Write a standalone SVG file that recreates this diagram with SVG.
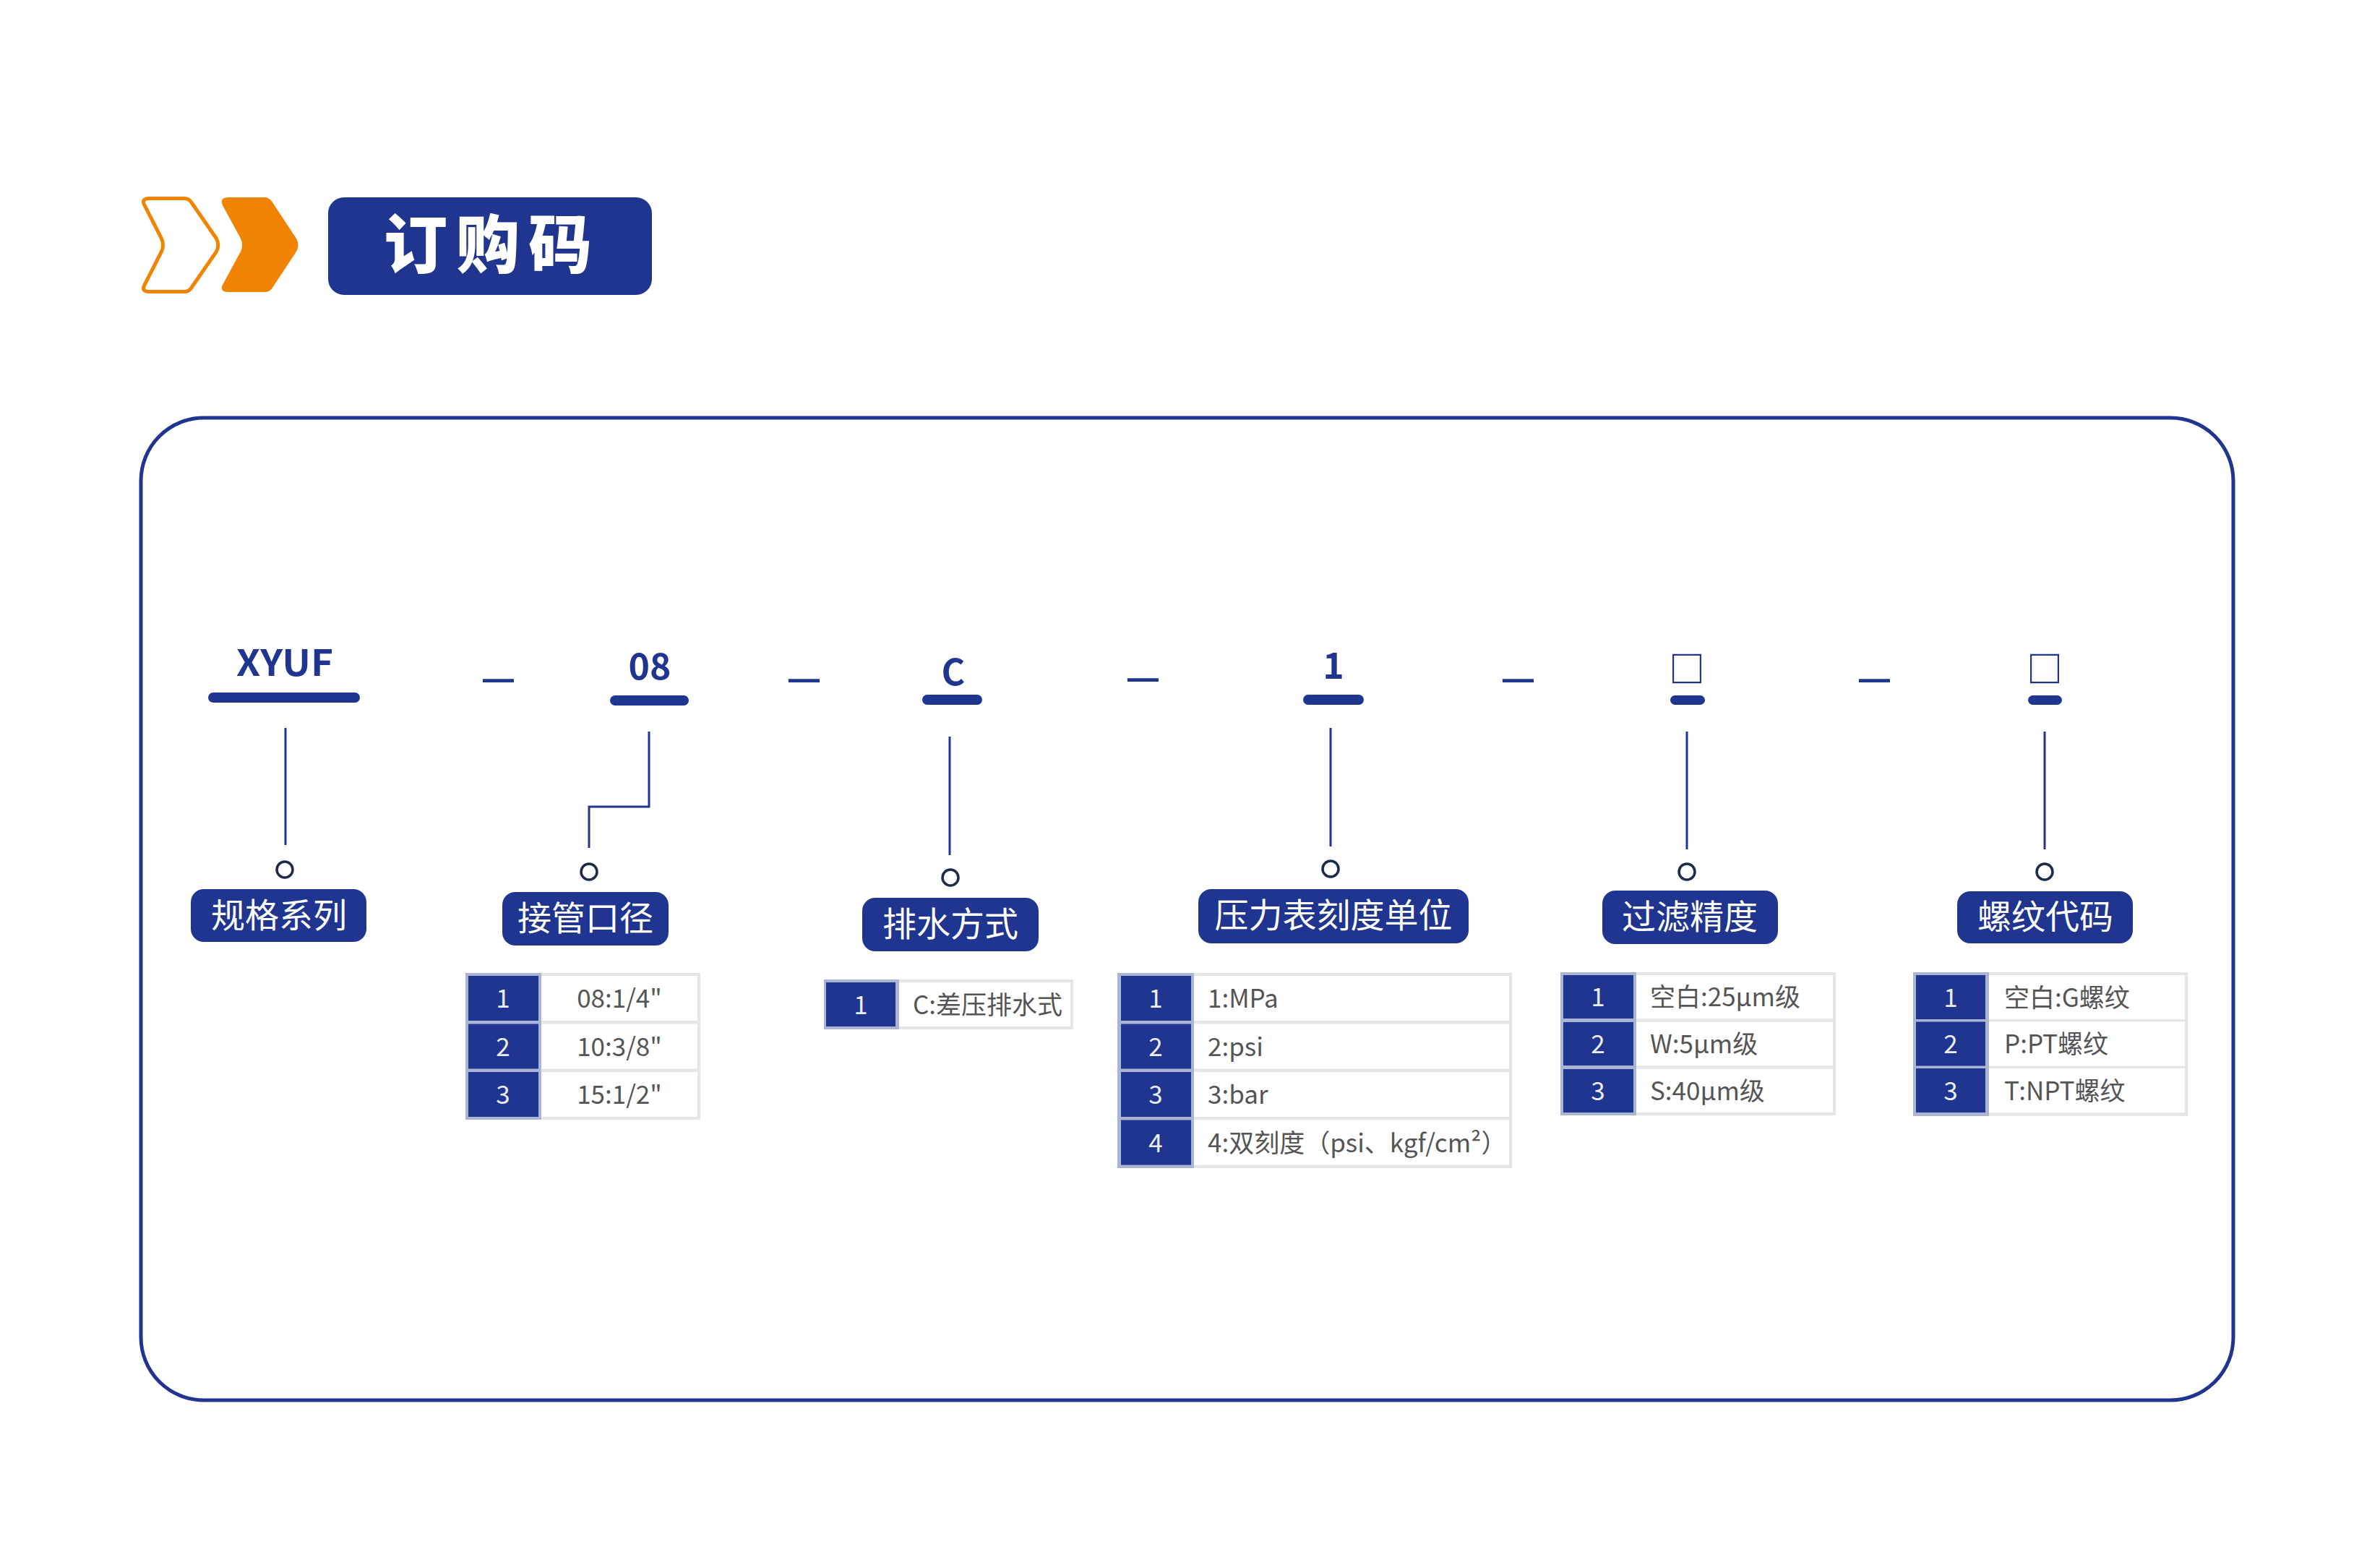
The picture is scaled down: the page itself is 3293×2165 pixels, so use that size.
<svg xmlns="http://www.w3.org/2000/svg" width="3293" height="2165" viewBox="0 0 3293 2165">
<style>
.f{font-family:"Noto Sans CJK SC","Noto Sans",sans-serif}
.code{font-family:"Noto Sans CJK SC","Noto Sans",sans-serif;font-weight:700;font-size:50px;fill:#1f3590;text-anchor:middle}
.sep{font-family:"Liberation Sans",Arial,sans-serif;font-size:74px;fill:#1f3590}
.bar{fill:#1f3590}
.lbl{fill:#1f3590}
.lt{font-family:"Noto Sans CJK SC","Noto Sans",sans-serif;font-size:47px;fill:#ffffff;text-anchor:middle}
.conn{stroke:#1f3590;stroke-width:3;fill:none}
.dot{stroke:#1b2b4b;stroke-width:3.5;fill:#ffffff}
.tg{fill:#e6e6e6}
.tb{fill:#aab5d3}
.nc{fill:#1f3590}
.vc{fill:#ffffff}
.num{font-family:"Noto Sans CJK SC","Noto Sans",sans-serif;font-size:35px;fill:#e9edf6;text-anchor:middle}
.val{font-family:"Noto Sans CJK SC","Noto Sans",sans-serif;font-size:35px;fill:#555555}
</style>
<rect x="0" y="0" width="3293" height="2165" fill="#ffffff"/>

<g id="header">
  <path d="M 207 274.5 L 255 274.5 Q 261 274.5 264.5 279.5 L 299.5 330 Q 304 339 299.5 348 L 264.5 398.5 Q 261 403.5 255 403.5 L 207 403.5 Q 195.5 403.5 199.5 395 L 223.5 348 Q 227.5 339 223.5 330 L 199.5 283 Q 195.5 274.5 207 274.5 Z" fill="#ffffff" stroke="#f08300" stroke-width="5"/>
  <path d="M 317 273 L 366 273 Q 372 273 376 278.5 L 410 330 Q 415 339 410 348 L 376 399.5 Q 372 404 366 404 L 317 404 Q 303 404 308 394 L 333 348 Q 337 339 333 330 L 308 284 Q 303 273 317 273 Z" fill="#f08300"/>
  <rect x="454" y="273" width="448" height="135" rx="22" ry="22" fill="#1f3590"/>
  <text x="681" y="370" class="f" font-size="88" font-weight="900" fill="#ffffff" text-anchor="middle" letter-spacing="12">订购码</text>
</g>

<rect id="frame" x="195" y="578" width="2895" height="1359" rx="87" ry="87" fill="none" stroke="#1f3590" stroke-width="5"/>

<g id="code-row">
  <text x="394" y="935" class="code" textLength="134" lengthAdjust="spacingAndGlyphs">XYUF</text>
  <rect x="288" y="958" width="210" height="14" rx="7" class="bar"/>
  <text x="669" y="929" class="sep">_</text>
  <text x="899" y="940" class="code">08</text>
  <rect x="844" y="962" width="109" height="14" rx="7" class="bar"/>
  <text x="1092" y="929" class="sep">_</text>
  <text x="1319" y="948" class="code">C</text>
  <rect x="1276" y="961" width="83" height="14" rx="7" class="bar"/>
  <text x="1561" y="928" class="sep">_</text>
  <text x="1845" y="939" class="code">1</text>
  <rect x="1803" y="961" width="84" height="14" rx="7" class="bar"/>
  <text x="2080" y="929" class="sep">_</text>
  <text x="2334" y="944" class="code" font-size="52">□</text>
  <rect x="2311" y="962" width="48" height="13" rx="6.5" class="bar"/>
  <text x="2573" y="929" class="sep">_</text>
  <text x="2829" y="944" class="code" font-size="52">□</text>
  <rect x="2806" y="962" width="47" height="13" rx="6.5" class="bar"/>
</g>

<g id="connectors">
  <line x1="395" y1="1007" x2="395" y2="1169" class="conn"/>
  <polyline points="898,1012 898,1116 815,1116 815,1173" class="conn"/>
  <line x1="1314" y1="1019" x2="1314" y2="1183" class="conn"/>
  <line x1="1841" y1="1007" x2="1841" y2="1171" class="conn"/>
  <line x1="2334" y1="1012" x2="2334" y2="1175" class="conn"/>
  <line x1="2829" y1="1012" x2="2829" y2="1175" class="conn"/>
  <circle cx="394" cy="1203" r="11" class="dot"/>
  <circle cx="815" cy="1206" r="11" class="dot"/>
  <circle cx="1315" cy="1214" r="11" class="dot"/>
  <circle cx="1841" cy="1202" r="11" class="dot"/>
  <circle cx="2334" cy="1206" r="11" class="dot"/>
  <circle cx="2829" cy="1206" r="11" class="dot"/>
</g>

<g id="node-spec">
  <rect x="264" y="1230" width="243" height="73" rx="18" class="lbl"/>
  <text x="386" y="1283" class="lt">规格系列</text>
</g>

<g id="node-port">
  <rect x="695" y="1234" width="230" height="74" rx="18" class="lbl"/>
  <text x="810" y="1287" class="lt">接管口径</text>
  <rect x="644" y="1346" width="325" height="203" class="tg"/>
  <rect x="644" y="1346" width="105" height="203" class="tb"/>
  <rect x="648" y="1350" width="97" height="62" class="nc"/>
  <rect x="749" y="1350" width="216" height="62" class="vc"/>
  <rect x="648" y="1416.5" width="97" height="62" class="nc"/>
  <rect x="749" y="1416.5" width="216" height="62" class="vc"/>
  <rect x="648" y="1483" width="97" height="62" class="nc"/>
  <rect x="749" y="1483" width="216" height="62" class="vc"/>
  <text x="696" y="1394" class="num">1</text>
  <text x="696" y="1460.5" class="num">2</text>
  <text x="696" y="1527" class="num">3</text>
  <text x="857" y="1394" class="val" text-anchor="middle">08:1/4"</text>
  <text x="857" y="1460.5" class="val" text-anchor="middle">10:3/8"</text>
  <text x="857" y="1527" class="val" text-anchor="middle">15:1/2"</text>
</g>

<g id="node-drain">
  <rect x="1193" y="1242" width="244" height="74" rx="18" class="lbl"/>
  <text x="1315" y="1295" class="lt">排水方式</text>
  <rect x="1140" y="1355" width="345" height="69" class="tg"/>
  <rect x="1140" y="1355" width="104" height="69" class="tb"/>
  <rect x="1143" y="1359" width="96" height="61" class="nc"/>
  <rect x="1244" y="1359" width="237" height="61" class="vc"/>
  <text x="1191" y="1402.5" class="num">1</text>
  <text x="1263" y="1402.5" class="val">C:差压排水式</text>
</g>

<g id="node-unit">
  <rect x="1658" y="1230" width="374" height="75" rx="18" class="lbl"/>
  <text x="1845" y="1283" class="lt">压力表刻度单位</text>
  <rect x="1546" y="1346" width="546" height="270" class="tg"/>
  <rect x="1546" y="1346" width="106" height="270" class="tb"/>
  <rect x="1551" y="1350" width="97" height="62" class="nc"/>
  <rect x="1652" y="1350" width="436" height="62" class="vc"/>
  <rect x="1551" y="1416.5" width="97" height="62" class="nc"/>
  <rect x="1652" y="1416.5" width="436" height="62" class="vc"/>
  <rect x="1551" y="1483" width="97" height="62" class="nc"/>
  <rect x="1652" y="1483" width="436" height="62" class="vc"/>
  <rect x="1551" y="1549.5" width="97" height="62" class="nc"/>
  <rect x="1652" y="1549.5" width="436" height="62" class="vc"/>
  <text x="1599" y="1394" class="num">1</text>
  <text x="1599" y="1460.5" class="num">2</text>
  <text x="1599" y="1527" class="num">3</text>
  <text x="1599" y="1593.5" class="num">4</text>
  <text x="1671" y="1394" class="val">1:MPa</text>
  <text x="1671" y="1460.5" class="val">2:psi</text>
  <text x="1671" y="1527" class="val">3:bar</text>
  <text x="1671" y="1593.5" class="val">4:双刻度（psi、kgf/cm²）</text>
</g>

<g id="node-filter">
  <rect x="2217" y="1232" width="243" height="74" rx="18" class="lbl"/>
  <text x="2338" y="1285" class="lt">过滤精度</text>
  <rect x="2159" y="1345" width="381" height="198" class="tg"/>
  <rect x="2159" y="1345" width="105" height="198" class="tb"/>
  <rect x="2163" y="1349" width="97" height="60" class="nc"/>
  <rect x="2264" y="1349" width="272" height="60" class="vc"/>
  <rect x="2163" y="1414" width="97" height="60" class="nc"/>
  <rect x="2264" y="1414" width="272" height="60" class="vc"/>
  <rect x="2163" y="1479" width="97" height="60" class="nc"/>
  <rect x="2264" y="1479" width="272" height="60" class="vc"/>
  <text x="2211" y="1392" class="num">1</text>
  <text x="2211" y="1457" class="num">2</text>
  <text x="2211" y="1522" class="num">3</text>
  <text x="2283" y="1392" class="val">空白:25μm级</text>
  <text x="2283" y="1457" class="val">W:5μm级</text>
  <text x="2283" y="1522" class="val">S:40μm级</text>
</g>

<g id="node-thread">
  <rect x="2708" y="1233" width="243" height="72" rx="18" class="lbl"/>
  <text x="2830" y="1285" class="lt">螺纹代码</text>
  <rect x="2647" y="1345" width="380" height="199" class="tg"/>
  <rect x="2647" y="1345" width="105" height="199" class="tb"/>
  <rect x="2651" y="1349" width="96" height="61" class="nc"/>
  <rect x="2752" y="1349" width="271" height="61" class="vc"/>
  <rect x="2651" y="1413.5" width="96" height="61" class="nc"/>
  <rect x="2752" y="1413.5" width="271" height="61" class="vc"/>
  <rect x="2651" y="1478" width="96" height="61" class="nc"/>
  <rect x="2752" y="1478" width="271" height="61" class="vc"/>
  <text x="2699" y="1392.5" class="num">1</text>
  <text x="2699" y="1457" class="num">2</text>
  <text x="2699" y="1521.5" class="num">3</text>
  <text x="2773" y="1392.5" class="val">空白:G螺纹</text>
  <text x="2773" y="1457" class="val">P:PT螺纹</text>
  <text x="2773" y="1521.5" class="val">T:NPT螺纹</text>
</g>
</svg>
